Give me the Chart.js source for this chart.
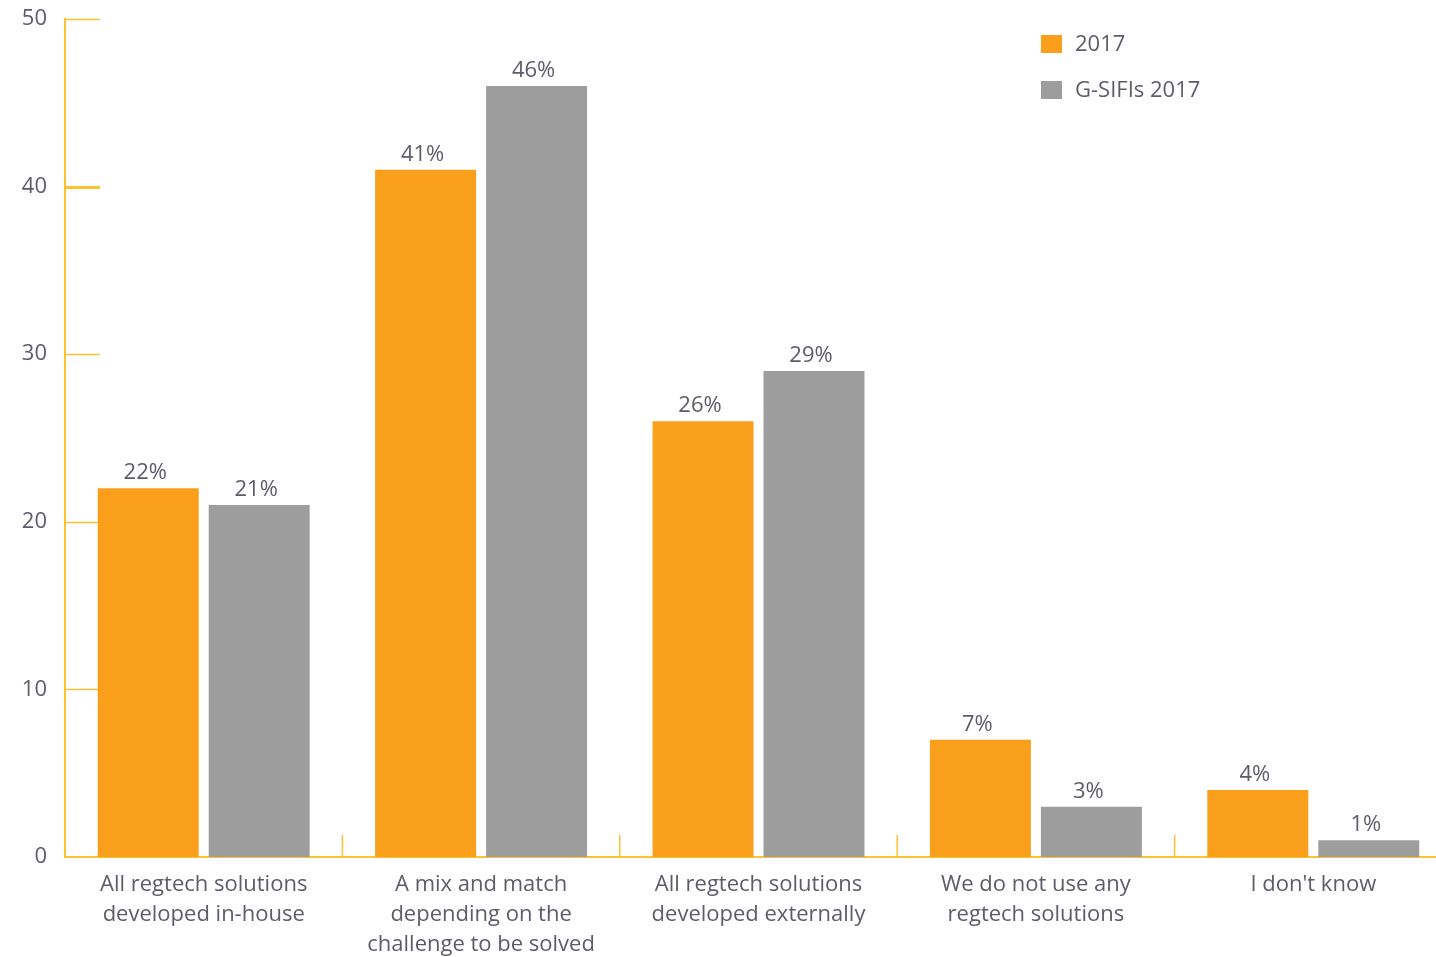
<!DOCTYPE html>
<html>
<head>
<meta charset="utf-8">
<script src="https://cdn.jsdelivr.net/npm/chart.js@4"></script>
<style>
  html, body { margin: 0; padding: 0; background: #fff; overflow: hidden; }
  #wrap { position: absolute; left: 0; top: 0; width: 1452px; height: 957px; }
</style>
</head>
<body>
<div id="wrap"><canvas id="myChart"></canvas></div>
<script>
const categories = [
  ['All regtech solutions', 'developed in-house'],
  ['A mix and match', 'depending on the', 'challenge to be solved'],
  ['All regtech solutions', 'developed externally'],
  ['We do not use any', 'regtech solutions'],
  ["I don't know"]
];
const values2017 = [22, 41, 26, 7, 4];
const valuesGsifis2017 = [21, 46, 29, 3, 1];
const seriesNames = ['2017', 'G-SIFIs 2017'];
const yTickValues = [0, 10, 20, 30, 40, 50];

const ORANGE = '#f99f1c';
const GREY = '#9d9d9e';
const AXIS = '#fdc234';
const TEXT = '#5c5d68';
const FONT = '"Open Sans", sans-serif';

// short tick marks drawn inside the plot, like the original
const innerTicks = {
  id: 'innerTicks',
  beforeDatasetsDraw(chart) {
    const ctx = chart.ctx;
    const area = chart.chartArea;
    const x = chart.scales.x, y = chart.scales.y;
    ctx.save();
    ctx.strokeStyle = AXIS;
    yTickValues.forEach(v => {
      if (v === 0) return;
      const py = Math.round(y.getPixelForValue(v)) + 0.5;
      ctx.lineWidth = v === 40 ? 3 : 1.5;
      ctx.beginPath();
      ctx.moveTo(area.left, py);
      ctx.lineTo(area.left + 35, py);
      ctx.stroke();
    });
    ctx.lineWidth = 1.5;
    for (let i = 0; i < categories.length - 1; i++) {
      const px = (x.getPixelForValue(i) + x.getPixelForValue(i + 1)) / 2;
      ctx.beginPath();
      ctx.moveTo(px, area.bottom);
      ctx.lineTo(px, area.bottom - 22);
      ctx.stroke();
    }
    ctx.restore();
  }
};

// value labels above bars + legend
const labelsAndLegend = {
  id: 'labelsAndLegend',
  afterDatasetsDraw(chart) {
    const ctx = chart.ctx;
    ctx.save();
    ctx.font = '22px ' + FONT;
    ctx.fillStyle = TEXT;
    ctx.textAlign = 'center';
    ctx.textBaseline = 'alphabetic';
    chart.data.datasets.forEach((ds, di) => {
      chart.getDatasetMeta(di).data.forEach((bar, i) => {
        ctx.fillText(ds.data[i] + '%', bar.x - 3, bar.y - 9);
      });
    });

    ctx.textAlign = 'left';
    ctx.textBaseline = 'middle';
    ctx.font = '22px ' + FONT;
    const legendY = [44, 90];
    chart.data.datasets.forEach((ds, di) => {
      ctx.fillStyle = ds.backgroundColor;
      ctx.fillRect(1041, legendY[di] - 9, 21, 18);
      ctx.fillStyle = TEXT;
      ctx.fillText(ds.label, 1075, legendY[di] + 1);
    });
    ctx.restore();
  }
};

const ctx = document.getElementById('myChart');
new Chart(ctx, {
  type: 'bar',
  data: {
    labels: categories,
    datasets: [{
      label: seriesNames[0],
      data: values2017,
      backgroundColor: ORANGE
    }, {
      label: seriesNames[1],
      data: valuesGsifis2017,
      backgroundColor: GREY
    }]
  },
  options: {
    responsive: true,
    maintainAspectRatio: false,
    animation: false,
    categoryPercentage: 0.8,
    barPercentage: 0.91,
    layout: { padding: { top: 19, left: 0, right: 0, bottom: 0 } },
    plugins: {
      legend: { display: false },
      tooltip: { enabled: false }
    },
    scales: {
      x: {
        grid: { display: false },
        border: { display: true, color: AXIS, width: 2 },
        ticks: {
          color: TEXT,
          padding: 5,
          maxRotation: 0,
          autoSkip: false,
          font: { family: FONT, size: 22, lineHeight: '30px' }
        },
        afterFit(scale) { scale.height = 100; scale.paddingLeft = 0; scale.paddingRight = 0; }
      },
      y: {
        min: 0,
        max: 50,
        grid: { display: false, drawTicks: false },
        border: { display: true, color: AXIS, width: 2 },
        ticks: {
          stepSize: 10,
          color: TEXT,
          padding: 18,
          font: { family: FONT, size: 22 }
        },
        afterFit(scale) { scale.width = 65; scale.paddingTop = 0; scale.paddingBottom = 0; }
      }
    }
  },
  plugins: [innerTicks, labelsAndLegend]
});
</script>
</body>
</html>
